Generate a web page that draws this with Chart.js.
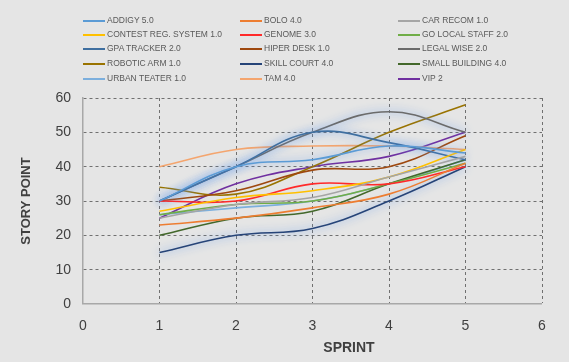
<!DOCTYPE html>
<html>
<head>
<meta charset="utf-8">
<script src="https://cdn.jsdelivr.net/npm/chart.js@4.4.0/dist/chart.umd.min.js"></script>
<style>
  html, body { margin: 0; padding: 0; background: #e5e5e5; }
  #wrap { position: relative; width: 569px; height: 362px; }
  #legend { position: absolute; left: 0; top: 0; width: 569px; height: 95px; font-family: "Liberation Sans", Arial, sans-serif; font-size: 8.5px; color: #595959; }
  .item { position: absolute; height: 12px; line-height: 12px; white-space: nowrap; }
  .item span.ln { display: inline-block; width: 22px; height: 1.5px; vertical-align: middle; margin-right: 2px; }
</style>
</head>
<body>
<div id="wrap">
  <canvas id="chart" width="569" height="362"></canvas>
  <div id="legend"></div>
</div>
<script>
var sprints = [1, 2, 3, 4, 5];
var names = ['ADDIGY 5.0', 'BOLO 4.0', 'CAR RECOM 1.0',
             'CONTEST REG. SYSTEM 1.0', 'GENOME 3.0', 'GO LOCAL STAFF 2.0',
             'GPA TRACKER 2.0', 'HIPER DESK 1.0', 'LEGAL WISE 2.0',
             'ROBOTIC ARM 1.0', 'SKILL COURT 4.0', 'SMALL BUILDING 4.0',
             'URBAN TEATER 1.0', 'TAM 4.0', 'VIP 2'];
var colors = ['#5b9bd5', '#ed7d31', '#a5a5a5',
              '#ffc000', '#ff2a2a', '#70ad47',
              '#3f6fa0', '#9e480e', '#6b6b6b',
              '#997300', '#264478', '#43682b',
              '#7cafdd', '#f4a56e', '#7030a0'];

var addigy = [30, 40, 42, 46, 44];
var bolo = [23, 25, 28, 32, 41];
var carRecom = [25, 29, 31, 37, 43];
var contest = [27, 31, 33, 37, 45];
var genome = [30, 30, 35, 35, 40];
var goLocal = [26, 29, 30, 35, 41];
var gpaTracker = [30, 40, 50, 47, 42];
var hiperDesk = [30, 33, 39, 40, 49];
var legalWise = [30, 40, 50, 56, 50];
var roboticArm = [34, 32, 40, 50, 58];
var skillCourt = [15, 20, 22, 30, 40];
var smallBuilding = [20, 25, 27, 35, 42];
var urbanTeater = [26, 28, 30, 35, 42];
var tam = [40, 45, 46, 46, 45];
var vip = [25, 35, 40, 43, 50];

var series = [addigy, bolo, carRecom, contest, genome, goLocal, gpaTracker, hiperDesk,
              legalWise, roboticArm, skillCourt, smallBuilding, urbanTeater, tam, vip];
var glow = ['GPA TRACKER 2.0', 'LEGAL WISE 2.0', 'SKILL COURT 4.0', 'ADDIGY 5.0'];

var datasets = [];
for (var i in series) {
    var pts = [];
    for (var j in sprints) {
        pts.push({ x: sprints[j], y: series[i][j] });
    }
    datasets.push({
        label: names[i],
        data: pts,
        borderColor: colors[i],
        backgroundColor: colors[i],
        borderWidth: 1.6,
        pointRadius: 0,
        tension: 0.4,
        fill: false
    });
}

// legend in 3 columns like the original
var legendDiv = document.getElementById('legend');
var colX = [83, 240, 398];
var rowY = [14, 28, 42, 57, 72];
for (var k = 0; k < names.length; k++) {
    var d = document.createElement('div');
    d.className = 'item';
    d.style.left = colX[k % 3] + 'px';
    d.style.top = rowY[Math.floor(k / 3)] + 'px';
    d.innerHTML = '<span class="ln" style="background:' + colors[k] + '"></span>' + names[k];
    legendDiv.appendChild(d);
}

var glowPlugin = {
    id: 'glow',
    beforeDatasetDraw: function (chart, args) {
        var ctx = chart.ctx;
        ctx.save();
        if (glow.indexOf(chart.data.datasets[args.index].label) >= 0) {
            ctx.shadowColor = 'rgba(90,150,235,0.9)';
            ctx.shadowBlur = 9;
        }
    },
    afterDatasetDraw: function (chart) {
        chart.ctx.restore();
    },
    afterDraw: function (chart) {
        var ctx = chart.ctx;
        ctx.save();
        ctx.fillStyle = '#404040';
        ctx.font = 'bold 14px "Liberation Sans", Arial, sans-serif';
        ctx.textAlign = 'center';
        ctx.textBaseline = 'middle';
        ctx.fillText('SPRINT', 349, 348);
        ctx.restore();
    }
};

new Chart(document.getElementById('chart'), {
    type: 'line',
    data: { datasets: datasets },
    options: {
        responsive: false,
        animation: false,
        layout: { padding: { top: 98, right: 27, left: 0, bottom: 0 } },
        plugins: { legend: { display: false }, tooltip: { enabled: false } },
        scales: {
            x: {
                type: 'linear',
                min: 0, max: 6,
                ticks: { stepSize: 1, color: '#404040', padding: 14, font: { family: 'Liberation Sans', size: 14 } },
                grid: { color: '#707070', drawTicks: false, lineWidth: function (c) { return c.tick.value === 0 ? 0 : 1; } },
                border: { display: true, color: '#a8a8a8', width: 1.5, dash: [3, 3] },
                afterFit: function (s) { s.height = 58; }
            },
            y: {
                min: 0, max: 60,
                ticks: { stepSize: 10, color: '#404040', padding: 12, font: { family: 'Liberation Sans', size: 14 } },
                grid: { color: '#707070', drawTicks: false, lineWidth: function (c) { return c.tick.value === 0 ? 0 : 1; } },
                border: { display: true, color: '#a8a8a8', width: 1.5, dash: [3, 3] },
                title: { display: true, text: 'STORY POINT', color: '#404040', padding: { top: 19, bottom: 0 }, font: { family: 'Liberation Sans', size: 13, weight: 'bold' } },
                afterFit: function (s) { s.width = 83; }
            }
        }
    },
    plugins: [glowPlugin]
});
</script>
</body>
</html>
